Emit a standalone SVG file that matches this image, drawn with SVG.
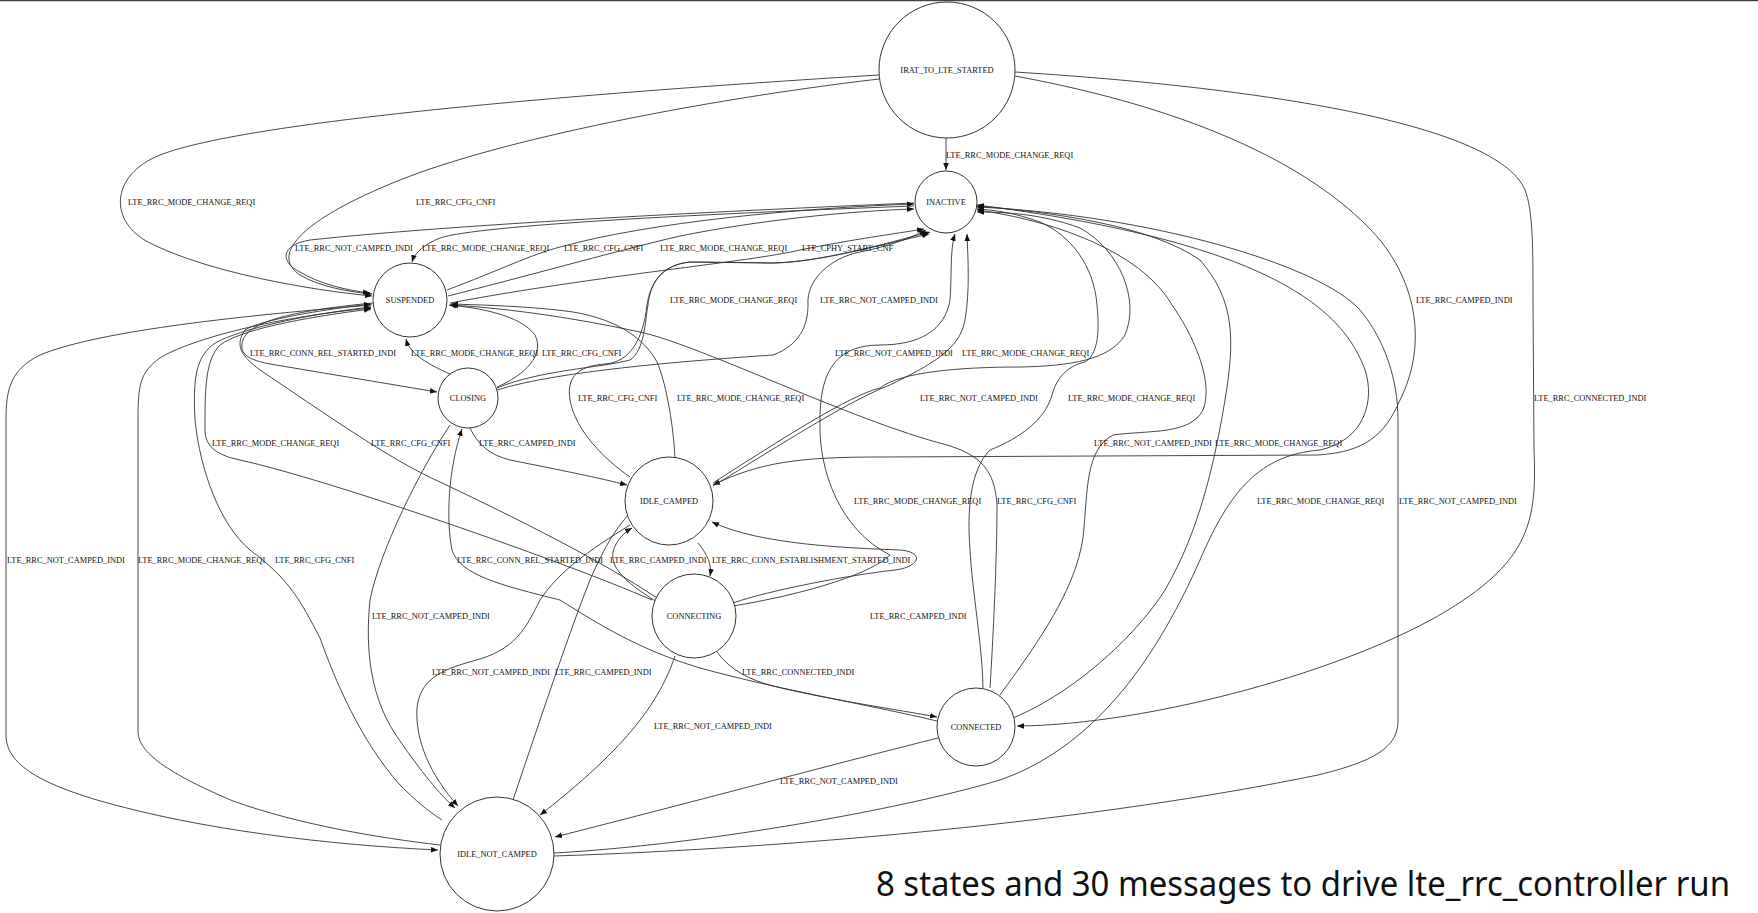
<svg xmlns="http://www.w3.org/2000/svg" width="1758" height="913" viewBox="0 0 1758 913">
<defs>
<marker id="ah" viewBox="0 0 10 10" refX="10" refY="5" markerWidth="7" markerHeight="7" markerUnits="userSpaceOnUse" orient="auto"><path d="M0,1 L10,5 L0,9 z" fill="#111"/></marker>
<style>
.n{fill:#fff;stroke:#333;stroke-width:1}
.nt{font-family:"Liberation Serif",serif;font-size:8.4px;fill:#111;text-anchor:middle}
.e path{fill:none;stroke:#333;stroke-width:0.9;marker-end:url(#ah)}
.l text{font-family:"Liberation Serif",serif;font-size:8.4px;fill:#111}
</style>
</defs>
<rect width="1758" height="913" fill="#fff"/>
<line x1="0" y1="0.5" x2="1758" y2="0.5" stroke="#444" stroke-width="1.5"/>
<g class="e" id="connectors">
<path d="M879,75 C600,92 250,120 160,155 C110,175 108,222 150,243 C210,273 310,290 372,296"/>
<path d="M879,79 C700,100 500,140 400,180 C300,220 270,255 300,275 C320,287 350,292 372,294"/>
<path d="M946,138 L946,170"/>
<path d="M1015,76 C1200,110 1320,170 1380,240 C1420,290 1425,350 1400,400 C1385,435 1365,452 1318,455 L880,457 C800,457 760,462 713,485"/>
<path d="M1015,72 C1300,90 1500,130 1525,190 C1533,210 1533,250 1533,300 L1534,450 C1537,520 1530,560 1448,610 C1350,670 1150,725 1017,726"/>
<path d="M914,203 C700,212 450,225 310,240 C280,245 280,262 300,272 C320,284 345,290 370,293"/>
<path d="M914,206 C700,214 480,225 440,238 C425,244 415,252 412,262"/>
<path d="M447,290 C500,270 530,255 560,247 C650,222 800,208 914,204"/>
<path d="M448,296 C550,270 620,250 680,236 C760,220 850,211 914,209"/>
<path d="M450,303 C600,275 750,262 800,250 C850,240 880,236 924,229"/>
<path d="M497,388 C540,370 600,368 630,360 C645,350 645,320 648,305 C650,285 660,265 690,262 L773,263 C820,262 880,245 930,232"/>
<path d="M497,390 C560,370 700,360 773,355 C800,345 808,325 808,305 C806,280 830,258 860,252 C890,246 910,238 926,230"/>
<path d="M373,303 C300,310 250,320 243,340 C238,355 250,360 270,364 L437,392"/>
<path d="M450,374 C430,365 410,355 406,339"/>
<path d="M497,387 C525,375 545,355 535,335 C520,315 480,308 449,305"/>
<path d="M372,305 C250,315 100,330 40,355 C10,370 6,390 6,420 L6,735 C6,760 30,780 97,800 C200,830 330,845 438,850"/>
<path d="M440,845 C380,838 300,825 233,801 C160,770 138,750 138,731 L138,420 C138,385 140,372 160,358 C180,345 250,320 371,308"/>
<path d="M442,820 C430,812 420,805 400,785 C360,740 335,680 320,638 C300,600 290,580 250,550 C220,525 200,470 195,420 C193,380 195,355 217,342 C240,330 300,315 371,307"/>
<path d="M652,600 C560,560 330,480 240,460 C215,455 205,445 205,430 C205,390 205,360 220,345 C240,330 300,318 371,309"/>
<path d="M657,598 C600,560 520,520 440,482 C390,460 320,410 260,370 C240,355 235,345 245,330 C260,320 320,310 371,304"/>
<path d="M450,425 C420,470 380,550 370,600 C365,650 370,700 400,741 C420,770 440,795 455,808"/>
<path d="M630,525 C590,550 560,570 540,600 C525,630 515,650 473,661 C440,670 420,680 417,708 C415,740 430,775 458,806"/>
<path d="M513,800 C540,720 570,630 590,580 C605,545 618,525 633,510"/>
<path d="M698,543 C708,555 712,565 710,576"/>
<path d="M657,602 C630,585 610,570 613,552 C616,540 625,532 632,528"/>
<path d="M717,652 C730,670 750,680 773,686 C830,700 900,710 937,717"/>
<path d="M937,721 C870,705 780,690 700,668 C640,650 600,625 560,600 C500,585 460,575 452,550 C446,520 448,470 462,429"/>
<path d="M733,603 C770,590 850,575 895,570 C920,567 925,552 900,550 C850,548 760,545 712,522"/>
<path d="M990,688 C993,640 997,560 997,505 C995,470 980,455 947,445 C850,420 700,345 640,332 C560,315 500,308 451,305"/>
<path d="M675,458 C673,420 665,380 657,362 C645,340 620,320 573,312 C530,306 480,305 451,304"/>
<path d="M630,477 C605,460 575,430 570,400 C566,375 580,366 605,364 C630,362 643,340 647,305 C650,285 660,265 690,262 L773,263 C820,262 880,245 929,234"/>
<path d="M470,428 C478,445 490,455 510,460 C560,470 600,478 627,485"/>
<path d="M675,656 C660,700 630,745 540,815"/>
<path d="M938,738 C850,760 700,800 555,837"/>
<path d="M554,853 C700,845 900,810 1000,780 C1100,745 1160,650 1200,560 C1230,490 1260,455 1320,450 C1365,440 1375,400 1365,370 C1340,300 1250,240 977,205"/>
<path d="M554,856 C800,848 1100,820 1318,775 C1380,760 1398,745 1398,720 L1398,420 C1398,380 1385,340 1360,310 C1320,265 1150,215 977,207"/>
<path d="M1000,695 C1040,640 1075,590 1083,538 C1088,490 1085,450 1113,435 C1150,430 1190,435 1203,410 C1215,380 1190,330 1172,305 C1140,250 1050,220 977,210"/>
<path d="M1013,718 C1080,690 1140,630 1165,590 C1200,530 1215,460 1225,400 C1235,340 1235,300 1200,260 C1150,225 1050,212 977,206"/>
<path d="M713,483 C780,440 850,395 880,388 C900,372 960,367 1020,367 C1070,366 1110,360 1125,335 C1140,300 1120,250 1080,228 C1040,213 1000,212 977,212"/>
<path d="M983,690 C983,650 972,590 970,550 C967,510 970,470 990,450 C1020,438 1045,420 1052,395 C1058,373 1072,365 1085,362 C1097,355 1100,335 1097,305 C1094,265 1070,235 1040,222 C1015,213 995,210 977,209"/>
<path d="M713,486 C780,445 850,400 890,385 C930,365 960,350 965,320 C970,290 968,260 967,234"/>
<path d="M733,606 C800,595 870,575 890,555 C840,530 818,470 820,420 C820,380 830,345 880,345 C920,345 945,330 950,300 C952,270 950,250 955,234"/>
</g>
<g class="l" id="labels">
<text x="128" y="205">LTE_RRC_MODE_CHANGE_REQI</text>
<text x="416" y="205">LTE_RRC_CFG_CNFI</text>
<text x="946" y="158">LTE_RRC_MODE_CHANGE_REQI</text>
<text x="1416" y="303">LTE_RRC_CAMPED_INDI</text>
<text x="1534" y="401">LTE_RRC_CONNECTED_INDI</text>
<text x="295" y="251">LTE_RRC_NOT_CAMPED_INDI</text>
<text x="422" y="251">LTE_RRC_MODE_CHANGE_REQI</text>
<text x="564" y="251">LTE_RRC_CFG_CNFI</text>
<text x="660" y="251">LTE_RRC_MODE_CHANGE_REQI</text>
<text x="802" y="251">LTE_CPHY_START_CNF</text>
<text x="670" y="303">LTE_RRC_MODE_CHANGE_REQI</text>
<text x="820" y="303">LTE_RRC_NOT_CAMPED_INDI</text>
<text x="250" y="356">LTE_RRC_CONN_REL_STARTED_INDI</text>
<text x="411" y="356">LTE_RRC_MODE_CHANGE_REQI</text>
<text x="542" y="356">LTE_RRC_CFG_CNFI</text>
<text x="835" y="356">LTE_RRC_NOT_CAMPED_INDI</text>
<text x="962" y="356">LTE_RRC_MODE_CHANGE_REQI</text>
<text x="578" y="401">LTE_RRC_CFG_CNFI</text>
<text x="677" y="401">LTE_RRC_MODE_CHANGE_REQI</text>
<text x="920" y="401">LTE_RRC_NOT_CAMPED_INDI</text>
<text x="1068" y="401">LTE_RRC_MODE_CHANGE_REQI</text>
<text x="212" y="446">LTE_RRC_MODE_CHANGE_REQI</text>
<text x="371" y="446">LTE_RRC_CFG_CNFI</text>
<text x="479" y="446">LTE_RRC_CAMPED_INDI</text>
<text x="1094" y="446">LTE_RRC_NOT_CAMPED_INDI</text>
<text x="1215" y="446">LTE_RRC_MODE_CHANGE_REQI</text>
<text x="854" y="504">LTE_RRC_MODE_CHANGE_REQI</text>
<text x="997" y="504">LTE_RRC_CFG_CNFI</text>
<text x="1257" y="504">LTE_RRC_MODE_CHANGE_REQI</text>
<text x="1399" y="504">LTE_RRC_NOT_CAMPED_INDI</text>
<text x="7" y="563">LTE_RRC_NOT_CAMPED_INDI</text>
<text x="138" y="563">LTE_RRC_MODE_CHANGE_REQI</text>
<text x="275" y="563">LTE_RRC_CFG_CNFI</text>
<text x="457" y="563">LTE_RRC_CONN_REL_STARTED_INDI</text>
<text x="610" y="563">LTE_RRC_CAMPED_INDI</text>
<text x="712" y="563">LTE_RRC_CONN_ESTABLISHMENT_STARTED_INDI</text>
<text x="372" y="619">LTE_RRC_NOT_CAMPED_INDI</text>
<text x="870" y="619">LTE_RRC_CAMPED_INDI</text>
<text x="432" y="675">LTE_RRC_NOT_CAMPED_INDI</text>
<text x="555" y="675">LTE_RRC_CAMPED_INDI</text>
<text x="742" y="675">LTE_RRC_CONNECTED_INDI</text>
<text x="654" y="729">LTE_RRC_NOT_CAMPED_INDI</text>
<text x="780" y="784">LTE_RRC_NOT_CAMPED_INDI</text>
</g>
<g id="node-irat"><circle class="n" cx="947" cy="70" r="68"/><text class="nt" x="947" y="73">IRAT_TO_LTE_STARTED</text></g>
<g id="node-inactive"><circle class="n" cx="946" cy="202" r="31"/><text class="nt" x="946" y="205">INACTIVE</text></g>
<g id="node-suspended"><circle class="n" cx="410" cy="300" r="37"/><text class="nt" x="410" y="303">SUSPENDED</text></g>
<g id="node-closing"><circle class="n" cx="468" cy="398" r="30"/><text class="nt" x="468" y="401">CLOSING</text></g>
<g id="node-idle-camped"><circle class="n" cx="669" cy="501" r="44"/><text class="nt" x="669" y="504">IDLE_CAMPED</text></g>
<g id="node-connecting"><circle class="n" cx="694" cy="616" r="42"/><text class="nt" x="694" y="619">CONNECTING</text></g>
<g id="node-connected"><circle class="n" cx="976" cy="727" r="39"/><text class="nt" x="976" y="730">CONNECTED</text></g>
<g id="node-idle-not-camped"><circle class="n" cx="497" cy="854" r="57"/><text class="nt" x="497" y="857">IDLE_NOT_CAMPED</text></g>
<text x="876" y="896" font-family="'Noto Sans','Open Sans',sans-serif" font-size="34" fill="#111" textLength="854" lengthAdjust="spacingAndGlyphs">8 states and 30 messages to drive lte_rrc_controller run</text>
</svg>
